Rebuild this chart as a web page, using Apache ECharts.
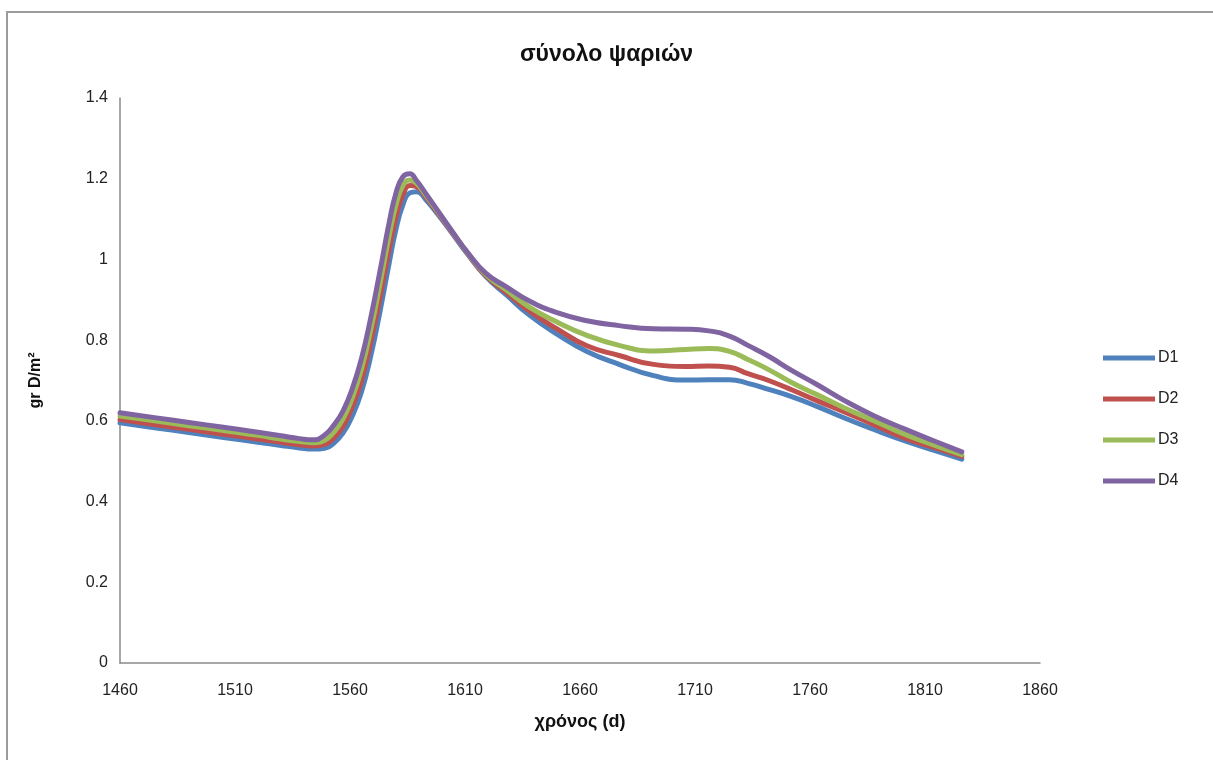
<!DOCTYPE html>
<html>
<head>
<meta charset="utf-8">
<title>σύνολο ψαριών</title>
<script src="https://cdn.jsdelivr.net/npm/echarts@6/dist/echarts.min.js"></script>
<style>
  html, body { margin: 0; padding: 0; background: #fff; }
  #chartDiagram { width: 1213px; height: 760px; }
</style>
</head>
<body>
<div id="chartDiagram"></div>
<script>
// days (x values)
var days = [1460, 1475, 1490, 1505, 1520, 1530, 1538, 1544, 1549, 1553, 1557, 1561, 1565, 1569, 1573, 1577, 1580, 1583, 1586, 1589, 1593, 1598, 1604, 1611, 1619, 1628, 1638, 1650, 1663, 1677, 1692, 1706, 1716, 1725, 1733, 1742, 1752, 1763, 1775, 1788, 1801, 1814, 1826];

// gr D/m2 per series
var d1 = [0.595, 0.583, 0.571, 0.559, 0.547, 0.539, 0.533, 0.530, 0.532, 0.545, 0.570, 0.612, 0.672, 0.760, 0.870, 0.990, 1.075, 1.135, 1.165, 1.168, 1.148, 1.113, 1.068, 1.014, 0.958, 0.912, 0.862, 0.815, 0.772, 0.740, 0.712, 0.701, 0.702, 0.702, 0.693, 0.678, 0.660, 0.636, 0.607, 0.578, 0.551, 0.527, 0.505];
var d2 = [0.603, 0.591, 0.579, 0.567, 0.555, 0.547, 0.541, 0.538, 0.542, 0.558, 0.587, 0.635, 0.700, 0.795, 0.905, 1.025, 1.105, 1.160, 1.183, 1.180, 1.155, 1.117, 1.070, 1.016, 0.960, 0.918, 0.872, 0.828, 0.786, 0.762, 0.740, 0.735, 0.736, 0.733, 0.717, 0.700, 0.677, 0.650, 0.622, 0.590, 0.558, 0.534, 0.512];
var d3 = [0.612, 0.600, 0.588, 0.576, 0.564, 0.555, 0.549, 0.546, 0.552, 0.572, 0.605, 0.657, 0.728, 0.825, 0.938, 1.058, 1.135, 1.183, 1.197, 1.188, 1.159, 1.120, 1.072, 1.017, 0.963, 0.924, 0.882, 0.845, 0.812, 0.787, 0.773, 0.777, 0.779, 0.772, 0.752, 0.727, 0.695, 0.665, 0.632, 0.600, 0.567, 0.540, 0.516];
var d4 = [0.620, 0.608, 0.596, 0.584, 0.572, 0.563, 0.556, 0.553, 0.565, 0.590, 0.625, 0.680, 0.755, 0.855, 0.970, 1.090, 1.165, 1.205, 1.212, 1.195, 1.163, 1.122, 1.073, 1.018, 0.966, 0.932, 0.897, 0.868, 0.848, 0.836, 0.828, 0.827, 0.823, 0.810, 0.787, 0.760, 0.725, 0.690, 0.650, 0.612, 0.580, 0.550, 0.523];

var seriesNames = ['D1', 'D2', 'D3', 'D4'];
var seriesColors = ['#4F81BD', '#C0504D', '#9BBB59', '#8064A2'];

var xTicks = { min: 1460, max: 1860, step: 50 };
var yTicks = { min: 0, max: 1.4, step: 0.2 };

function pairs(xs, ys) {
  return xs.map(function (x, i) { return [x, ys[i]]; });
}

var allData = [d1, d2, d3, d4];
var font = "'Liberation Sans', Arial, sans-serif";

var chart = echarts.init(document.getElementById("chartDiagram"), null, { renderer: 'canvas' });

var option = {
  backgroundColor: '#fff',
  animation: false,
  title: {
    text: 'σύνολο ψαριών',
    left: 'center',
    top: 38,
    textStyle: { fontFamily: font, fontSize: 23, fontWeight: 'bold', color: '#111' }
  },
  graphic: [
    {
      type: 'rect',
      shape: { x: 7, y: 12, width: 1240, height: 780 },
      style: { fill: 'none', stroke: '#9c9c9c', lineWidth: 2 },
      silent: true
    }
  ],
  legend: {
    orient: 'vertical',
    left: 1103,
    top: 350,
    icon: 'rect',
    itemWidth: 52,
    itemHeight: 5,
    itemGap: 25,
    padding: 0,
    data: seriesNames,
    textStyle: { fontFamily: font, fontSize: 16, color: '#222', padding: [0, 0, 0, -2] }
  },
  grid: { left: 120, right: 173, top: 98, bottom: 97 },
  xAxis: {
    type: 'value',
    min: xTicks.min,
    max: xTicks.max,
    interval: xTicks.step,
    name: 'χρόνος (d)',
    nameLocation: 'middle',
    nameGap: 50,
    nameTextStyle: { fontFamily: font, fontSize: 18, fontWeight: 'bold', color: '#111' },
    axisLine: { lineStyle: { color: '#8a8a8a', width: 1.5 } },
    axisTick: { show: false },
    splitLine: { show: false },
    axisLabel: {
      fontFamily: font, fontSize: 16, color: '#222', margin: 20,
      formatter: function (v) { return String(v); }
    }
  },
  yAxis: {
    type: 'value',
    min: yTicks.min,
    max: yTicks.max,
    interval: yTicks.step,
    name: 'gr D/m²',
    nameLocation: 'middle',
    nameGap: 76,
    nameTextStyle: { fontFamily: font, fontSize: 16, fontWeight: 'bold', color: '#111' },
    axisLine: { show: true, lineStyle: { color: '#8a8a8a', width: 1.5 } },
    axisTick: { show: false },
    splitLine: { show: false },
    axisLabel: {
      fontFamily: font, fontSize: 16, color: '#222', margin: 12,
      formatter: function (v) { return String(Math.round(v * 10) / 10); }
    }
  },
  series: seriesNames.map(function (name, i) {
    return {
      name: name,
      type: 'line',
      smooth: 0.5,
      symbol: 'none',
      color: seriesColors[i],
      lineStyle: { width: 5, color: seriesColors[i], join: 'round', cap: 'round' },
      data: pairs(days, allData[i])
    };
  })
};

chart.setOption(option);
</script>
</body>
</html>
